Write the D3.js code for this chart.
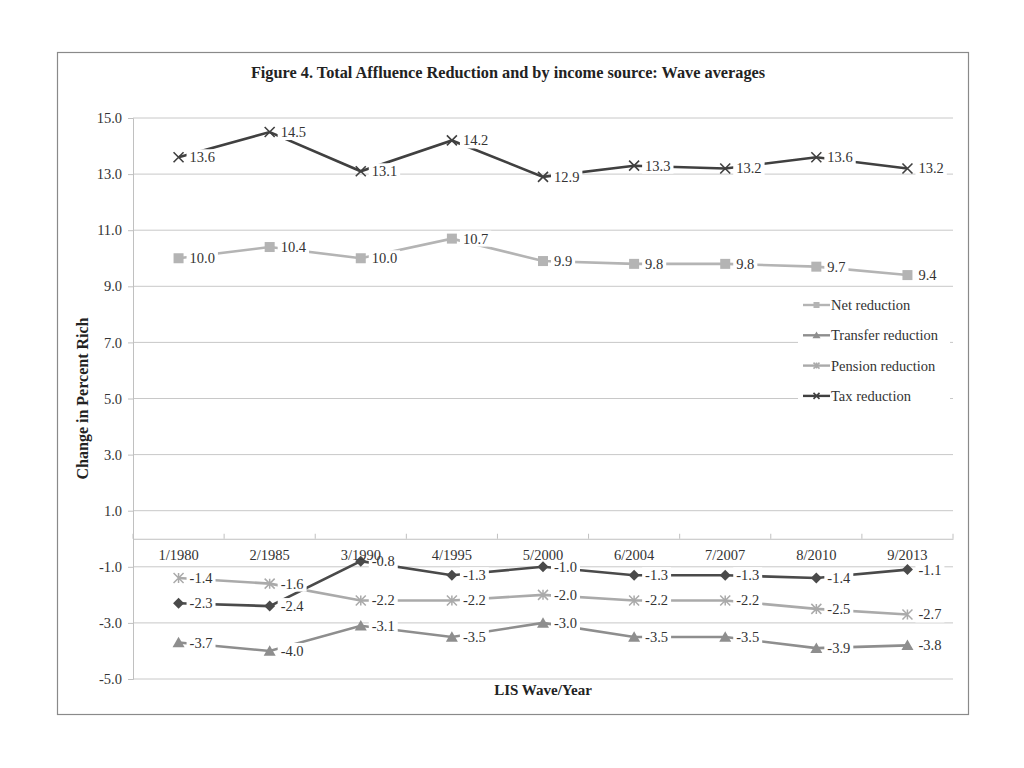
<!DOCTYPE html>
<html><head><meta charset="utf-8">
<script src="https://cdn.jsdelivr.net/npm/d3@7"></script>
<style>body{margin:0;background:#fff;} svg{display:block;}</style>
</head><body>
<svg id="c" width="1024" height="768"></svg>
<script>
const categories = ["1/1980","2/1985","3/1990","4/1995","5/2000","6/2004","7/2007","8/2010","9/2013"];
const taxReduction = [13.6,14.5,13.1,14.2,12.9,13.3,13.2,13.6,13.2];
const netReduction = [10.0,10.4,10.0,10.7,9.9,9.8,9.8,9.7,9.4];
const pensionReduction = [-1.4,-1.6,-2.2,-2.2,-2.0,-2.2,-2.2,-2.5,-2.7];
const otherReduction = [-2.3,-2.4,-0.8,-1.3,-1.0,-1.3,-1.3,-1.4,-1.1];
const transferReduction = [-3.7,-4.0,-3.1,-3.5,-3.0,-3.5,-3.5,-3.9,-3.8];
const yTicks = [15,13,11,9,7,5,3,1,-1,-3,-5];

const series = [
  {name:"Net reduction", values:netReduction, color:"#b4b4b4", marker:"square", legend:true},
  {name:"Transfer reduction", values:transferReduction, color:"#8e8e8e", marker:"triangle", legend:true},
  {name:"Pension reduction", values:pensionReduction, color:"#aaaaaa", marker:"asterisk", legend:true},
  {name:"Tax reduction", values:taxReduction, color:"#404040", marker:"x", legend:true},
  {name:"Other", values:otherReduction, color:"#4a4a4a", marker:"diamond", legend:false}
];

const fmt = v => d3.format(".1f")(v).replace("\u2212","-");
const svg = d3.select("#c");
const font = "'Liberation Serif','Times New Roman',serif";
const L=133, R=953, T=118, B=679;

svg.append("rect").attr("x",57.5).attr("y",52.5).attr("width",911).attr("height",662)
  .attr("fill","#fff").attr("stroke","#8a8a8a").attr("stroke-width",1.2);

svg.append("text").attr("x",508).attr("y",78).attr("text-anchor","middle")
  .attr("font-family",font).attr("font-weight","bold").attr("font-size",16.3).attr("fill","#222")
  .text("Figure 4. Total Affluence Reduction and by income source: Wave averages");

const x = d3.scaleBand().domain(categories).range([L,R]);
const y = d3.scaleLinear().domain([-5,15]).range([B,T]);

// gridlines
svg.append("g").selectAll("line").data(yTicks).join("line")
  .attr("x1",L).attr("x2",R).attr("y1",d=>y(d)).attr("y2",d=>y(d))
  .attr("stroke","#c8c8c8").attr("stroke-width",1);

// y axis
const yAxis = svg.append("g").attr("transform",`translate(${L},0)`)
  .call(d3.axisLeft(y).tickValues(yTicks).tickFormat(fmt).tickSize(5).tickPadding(6));
yAxis.select(".domain").attr("stroke","#c0c0c0");
yAxis.selectAll(".tick line").attr("stroke","#c0c0c0");
yAxis.selectAll("text").attr("font-family",font).attr("font-size",14.5).attr("fill","#333");

// x axis at zero
const xAxis = svg.append("g").attr("transform",`translate(0,${y(0)})`)
  .call(d3.axisTop(x).tickSize(0).tickFormat(""));
xAxis.select(".domain").attr("stroke","#c0c0c0");
svg.append("g").selectAll("line").data(d3.range(categories.length+1)).join("line")
  .attr("x1",i=>L+i*x.step()).attr("x2",i=>L+i*x.step())
  .attr("y1",y(0)).attr("y2",y(0)-5).attr("stroke","#c0c0c0");

// axis titles
svg.append("text").attr("transform",`translate(88,${(T+B)/2}) rotate(-90)`).attr("text-anchor","middle")
  .attr("font-family",font).attr("font-weight","bold").attr("font-size",16).attr("fill","#222")
  .text("Change in Percent Rich");
svg.append("text").attr("x",543).attr("y",695).attr("text-anchor","middle")
  .attr("font-family",font).attr("font-weight","bold").attr("font-size",15).attr("fill","#222")
  .text("LIS Wave/Year");

function drawMarker(g, type, cx, cy, color, s){
  if(type==="square"){
    g.append("rect").attr("x",cx-s/2).attr("y",cy-s/2).attr("width",s).attr("height",s).attr("fill",color);
  } else if(type==="triangle"){
    const h=s*0.95;
    g.append("path").attr("d",`M${cx},${cy-h/2-1}L${cx+s/2+1},${cy+h/2}L${cx-s/2-1},${cy+h/2}Z`).attr("fill",color);
  } else if(type==="diamond"){
    const r=s/2+0.5;
    g.append("path").attr("d",`M${cx},${cy-r}L${cx+r},${cy}L${cx},${cy+r}L${cx-r},${cy}Z`).attr("fill",color);
  } else if(type==="x"){
    const r=s/2;
    g.append("path").attr("d",`M${cx-r},${cy-r}L${cx+r},${cy+r}M${cx-r},${cy+r}L${cx+r},${cy-r}`)
      .attr("stroke",color).attr("stroke-width",1.6).attr("fill","none");
  } else if(type==="asterisk"){
    const r=s/2;
    g.append("path").attr("d",`M${cx-r},${cy-r}L${cx+r},${cy+r}M${cx-r},${cy+r}L${cx+r},${cy-r}M${cx},${cy-r}L${cx},${cy+r}`)
      .attr("stroke",color).attr("stroke-width",1.5).attr("fill","none");
  }
}

const cx = d=>x(d)+x.bandwidth()/2;
const line = d3.line().x(d=>cx(d.c)).y(d=>y(d.v));
const gLines = svg.append("g"), gMarks = svg.append("g"), gLabels = svg.append("g");
series.forEach(s=>{
  const pts = categories.map((c,i)=>({c, v:s.values[i]}));
  gLines.append("path").datum(pts).attr("d",line).attr("fill","none")
    .attr("stroke",s.color).attr("stroke-width",2.6);
  pts.forEach(p=>drawMarker(gMarks, s.marker, cx(p.c), y(p.v), s.color, 10));
  pts.forEach(p=>{
    const tx = cx(p.c)+11, ty = y(p.v);
    const bg = gLabels.append("rect").attr("fill","#fff");
    const t = gLabels.append("text").attr("x",tx).attr("y",ty+5).attr("font-family",font).attr("font-size",14.5)
      .attr("fill","#333").text(fmt(p.v));
    const w = t.node().getComputedTextLength();
    bg.attr("x",tx-3).attr("y",ty-8).attr("width",w+6).attr("height",16);
  });
});

// category labels (on top)
svg.append("g").selectAll("text").data(categories).join("text")
  .attr("x",d=>x(d)+x.bandwidth()/2).attr("y",y(0)+21).attr("text-anchor","middle")
  .attr("font-family",font).attr("font-size",14.5).attr("fill","#333").text(d=>d);

// legend
const legendItems = series.filter(s=>s.legend);
const lg = svg.append("g");
legendItems.forEach((s,i)=>{
  const ly = 305 + i*30.3;
  lg.append("rect").attr("x",798).attr("y",ly-9).attr("width",152).attr("height",18).attr("fill","#fff");
  lg.append("line").attr("x1",803).attr("x2",830).attr("y1",ly).attr("y2",ly).attr("stroke",s.color).attr("stroke-width",2.4);
  drawMarker(lg, s.marker, 816.5, ly, s.color, 6);
  lg.append("text").attr("x",831).attr("y",ly+5).attr("font-family",font).attr("font-size",14.5)
    .attr("fill","#333").text(s.name);
});
</script>
</body></html>
